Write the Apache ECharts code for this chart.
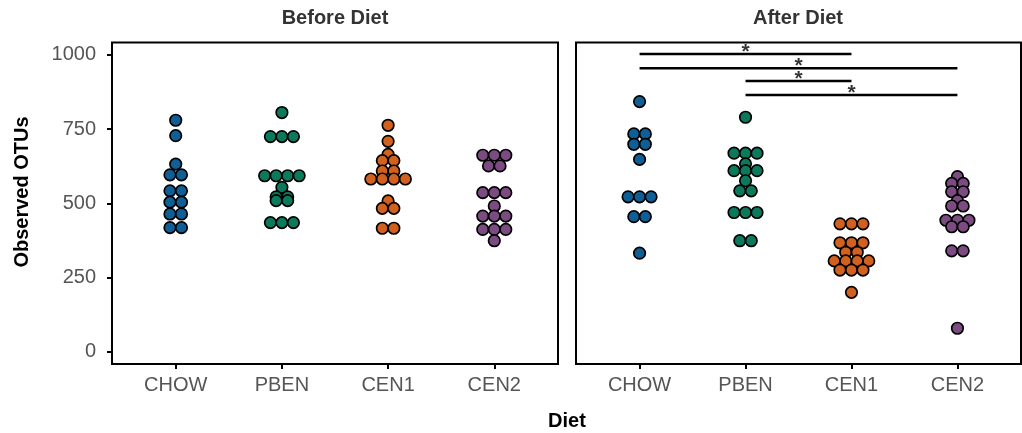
<!DOCTYPE html>
<html>
	<head>
		<meta charset="UTF-8">
		<title>Observed OTUs</title>
		<style type="text/css">
			body{
				margin: 0;
				background: #fff;
			}
			#main{
				width: 1022px;
				height: 433px;
			}
		</style>
	</head>
	<body>
		<div id="main"></div>
		<script src="https://cdn.jsdelivr.net/npm/echarts@6/dist/echarts.min.js"></script>
		<script type="text/javascript">
			var categories = ['CHOW', 'PBEN', 'CEN1', 'CEN2'];
			var panels = ['Before Diet', 'After Diet'];
			var yTicks = [0, 250, 500, 750, 1000];

			// before diet
			var beforeChow = [780, 728, 632, 596, 596, 542, 542, 504, 504, 464, 464, 418, 418];
			var beforePben = [806, 725, 725, 725, 593, 593, 593, 593, 554, 522, 522, 509, 509, 435, 435, 435];
			var beforeCen1 = [763, 709, 665, 644, 644, 609, 609, 582, 582, 582, 582, 508, 483, 483, 416, 416];
			var beforeCen2 = [662, 662, 662, 626, 626, 536, 536, 536, 491, 457, 457, 457, 412, 412, 412, 374];

			// after diet
			var afterChow = [843, 734, 734, 699, 699, 648, 522, 522, 522, 455, 455, 332];
			var afterPben = [790, 669, 669, 669, 633, 610, 610, 610, 576, 542, 542, 469, 469, 469, 374, 374];
			var afterCen1 = [431, 431, 431, 367, 367, 367, 335, 335, 306, 306, 306, 306, 275, 275, 275, 200];
			var afterCen2 = [590, 567, 567, 539, 539, 509, 491, 491, 443, 443, 443, 421, 421, 340, 340, 79];

			// significance brackets (after diet)
			var sigFrom = [1, 1, 2, 2];
			var sigTo = [3, 4, 3, 4];
			var sigY = [1003, 955, 912, 865];
			var sigText = ['*', '*', '*', '*'];

			var colors = ['#0f5e96', '#0b7a5c', '#d2601f', '#7b4b82'];
			var font = '"Liberation Sans", Arial, Helvetica, sans-serif';
			var dotStep = 11.5;

			// dots with the same value sit side by side, centred on the category
			function swarm(values, pos){
				var counts = {};
				var seen = {};
				values.forEach(function(v){ counts[v] = (counts[v] || 0) + 1; });
				return values.map(function(v){
					var n = counts[v];
					var i = seen[v] || 0;
					seen[v] = i + 1;
					return {value: [pos, v], symbolOffset: [(i - (n - 1) / 2) * dotStep, 0]};
				});
			}

			function dotSeries(values, idx, panel){
				return {
					type: 'scatter',
					xAxisIndex: panel,
					yAxisIndex: panel,
					symbol: 'circle',
					symbolSize: 11.5,
					itemStyle: {color: colors[idx], borderColor: '#000', borderWidth: 1.7, opacity: 1},
					data: swarm(values, idx + 1),
					silent: true,
					z: 3
				};
			}

			function xAxis(panel){
				return {
					type: 'value',
					gridIndex: panel,
					min: 0.4,
					max: 4.6,
					splitLine: {show: false},
					axisLine: {show: false, onZero: false},
					axisTick: {show: true, customValues: [1, 2, 3, 4], length: 5, lineStyle: {color: '#000', width: 2}},
					axisLabel: {
						customValues: [1, 2, 3, 4],
						formatter: function(v){ return categories[Math.round(v) - 1]; },
						fontSize: 20,
						fontFamily: font,
						color: '#555',
						margin: 11
					}
				};
			}

			function yAxis(panel){
				return {
					type: 'value',
					gridIndex: panel,
					min: -41.5,
					max: 1042,
					splitLine: {show: false},
					axisLine: {show: false, onZero: false},
					axisTick: {show: panel == 0, customValues: yTicks, length: 5, lineStyle: {color: '#000', width: 2}},
					axisLabel: {
						show: panel == 0,
						customValues: yTicks,
						formatter: function(v){ return String(v); },
						fontSize: 20,
						fontFamily: font,
						color: '#555',
						margin: 16
					}
				};
			}

			var series = [];
			[beforeChow, beforePben, beforeCen1, beforeCen2].forEach(function(d, i){ series.push(dotSeries(d, i, 0)); });
			[afterChow, afterPben, afterCen1, afterCen2].forEach(function(d, i){ series.push(dotSeries(d, i, 1)); });

			for(var k = 0; k < sigY.length; k++){
				series.push({
					type: 'line',
					xAxisIndex: 1,
					yAxisIndex: 1,
					symbol: 'none',
					silent: true,
					lineStyle: {color: '#000', width: 2.5},
					data: [[sigFrom[k], sigY[k]], [sigTo[k], sigY[k]]],
					z: 2
				});
			}
			series.push({
				type: 'scatter',
				xAxisIndex: 1,
				yAxisIndex: 1,
				symbolSize: 0,
				silent: true,
				label: {
					show: true,
					position: 'inside',
					offset: [0, -2],
					fontSize: 21,
					fontWeight: 'bold',
					fontFamily: font,
					color: '#000',
					formatter: function(p){ return sigText[p.dataIndex]; }
				},
				data: sigY.map(function(y, k){ return [(sigFrom[k] + sigTo[k]) / 2, y]; })
			});

			var myChart = echarts.init(document.getElementById('main'));
			var option = {
				animation: false,
				grid: [
					{left: 112, right: 464, top: 42.5, bottom: 69, show: true, borderColor: '#000', borderWidth: 2},
					{left: 576, right: 1, top: 42.5, bottom: 69, show: true, borderColor: '#000', borderWidth: 2}
				],
				xAxis: [xAxis(0), xAxis(1)],
				yAxis: [yAxis(0), yAxis(1)],
				graphic: [
					{type: 'text', x: 335, y: 18, style: {text: panels[0], font: 'bold 20px ' + font, fill: '#333', align: 'center', verticalAlign: 'middle', textAlign: 'center', textVerticalAlign: 'middle'}},
					{type: 'text', x: 798, y: 18, style: {text: panels[1], font: 'bold 20px ' + font, fill: '#333', align: 'center', verticalAlign: 'middle', textAlign: 'center', textVerticalAlign: 'middle'}},
					{type: 'text', x: 567, y: 421, style: {text: 'Diet', font: 'bold 20px ' + font, fill: '#000', align: 'center', verticalAlign: 'middle', textAlign: 'center', textVerticalAlign: 'middle'}},
					{type: 'text', x: 22, y: 192, rotation: Math.PI / 2, style: {text: 'Observed OTUs', font: 'bold 20px ' + font, fill: '#000', align: 'center', verticalAlign: 'middle', textAlign: 'center', textVerticalAlign: 'middle'}}
				],
				series: series
			};
			myChart.setOption(option);
		</script>
	</body>
</html>
